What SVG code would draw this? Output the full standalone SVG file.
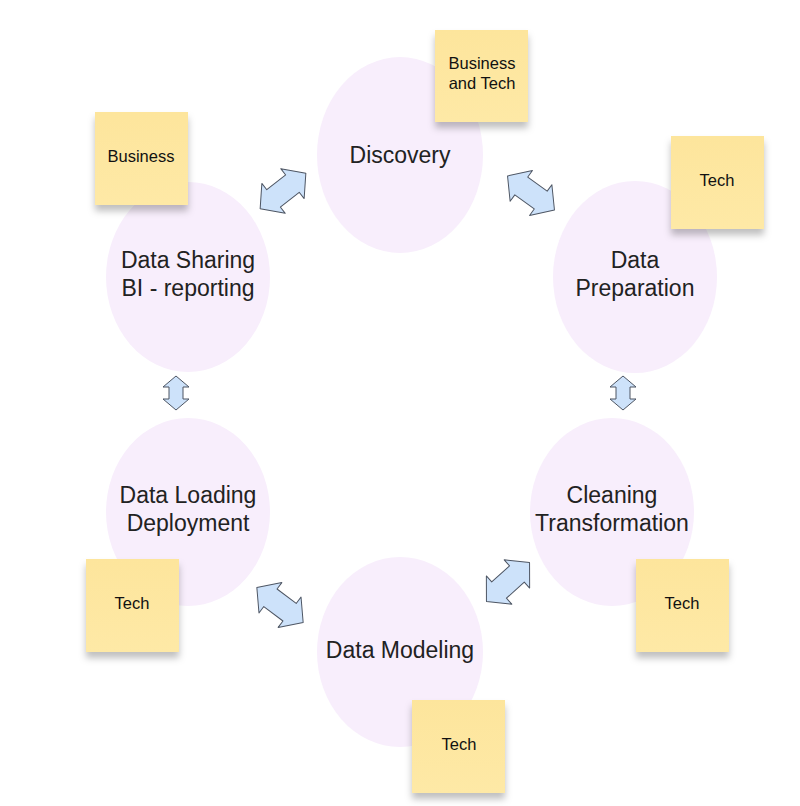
<svg xmlns="http://www.w3.org/2000/svg" width="800" height="806" viewBox="0 0 800 806">
<style>
.stage{fill:#f8eefc;stroke:none}
.lbl{font-family:"Liberation Sans",Arial,sans-serif;font-size:23px;fill:#222;text-anchor:middle}
.note{fill:url(#ng);filter:url(#sh)}
.nt{font-family:"Liberation Sans",Arial,sans-serif;font-size:16.5px;fill:#111;text-anchor:middle}
.arr{fill:#cde2fa;stroke:#4d5563;stroke-width:1;stroke-linejoin:round}
</style>
<defs>
<linearGradient id="ng" x1="0" y1="0" x2="0" y2="1">
<stop offset="0" stop-color="#fde59c"/>
<stop offset="1" stop-color="#fee9a6"/>
</linearGradient>
<filter id="sh" x="-20%" y="-20%" width="140%" height="150%">
<feDropShadow dx="0" dy="6" stdDeviation="3.5" flood-color="#000" flood-opacity="0.25"/>
</filter>
<path id="da" d="M -29,0 L -12,-19 L -12,-11 L 12,-11 L 12,-19 L 29,0 L 12,19 L 12,11 L -12,11 L -12,19 Z"/>
<path id="va" d="M 0,-17 L 13,-6 L 7,-6 L 7,6 L 13,6 L 0,17 L -13,6 L -7,6 L -7,-6 L -13,-6 Z"/>
</defs>
<rect width="800" height="806" fill="#fff"/>
<g id="discovery"><ellipse class="stage" cx="400" cy="155" rx="83" ry="98"/><text class="lbl" x="400" y="163">Discovery</text></g>
<g id="data-preparation"><ellipse class="stage" cx="635" cy="277" rx="82" ry="96"/><text class="lbl" x="635" y="268">Data</text><text class="lbl" x="635" y="296">Preparation</text></g>
<g id="cleaning"><ellipse class="stage" cx="612" cy="512" rx="82" ry="94"/><text class="lbl" x="612" y="503">Cleaning</text><text class="lbl" x="612" y="531">Transformation</text></g>
<g id="data-modeling"><ellipse class="stage" cx="400" cy="652" rx="83" ry="95"/><text class="lbl" x="400" y="658">Data Modeling</text></g>
<g id="data-loading"><ellipse class="stage" cx="188" cy="512" rx="82" ry="94"/><text class="lbl" x="188" y="503">Data Loading</text><text class="lbl" x="188" y="531">Deployment</text></g>
<g id="data-sharing"><ellipse class="stage" cx="188" cy="277" rx="82" ry="95"/><text class="lbl" x="188" y="268">Data Sharing</text><text class="lbl" x="188" y="296">BI - reporting</text></g>
<g id="connectors">
<use href="#da" class="arr" transform="translate(283,191) rotate(-38)"/>
<use href="#da" class="arr" transform="translate(531,193) rotate(36)"/>
<use href="#va" class="arr" transform="translate(176,393)"/>
<use href="#va" class="arr" transform="translate(623,393)"/>
<use href="#da" class="arr" transform="translate(280,605) rotate(37)"/>
<use href="#da" class="arr" transform="translate(508,582) rotate(-42)"/>
</g>
<g id="note-business-tech"><rect class="note" x="435" y="30" width="93" height="92"/><text class="nt" x="482" y="69">Business</text><text class="nt" x="482" y="89">and Tech</text></g>
<g id="note-business"><rect class="note" x="95" y="112" width="93" height="93"/><text class="nt" x="141" y="162">Business</text></g>
<g id="note-tech-prep"><rect class="note" x="671" y="136" width="93" height="93"/><text class="nt" x="717" y="186">Tech</text></g>
<g id="note-tech-clean"><rect class="note" x="636" y="559" width="93" height="93"/><text class="nt" x="682" y="609">Tech</text></g>
<g id="note-tech-model"><rect class="note" x="412" y="700" width="93" height="93"/><text class="nt" x="459" y="750">Tech</text></g>
<g id="note-tech-load"><rect class="note" x="86" y="559" width="93" height="93"/><text class="nt" x="132" y="609">Tech</text></g>
</svg>
